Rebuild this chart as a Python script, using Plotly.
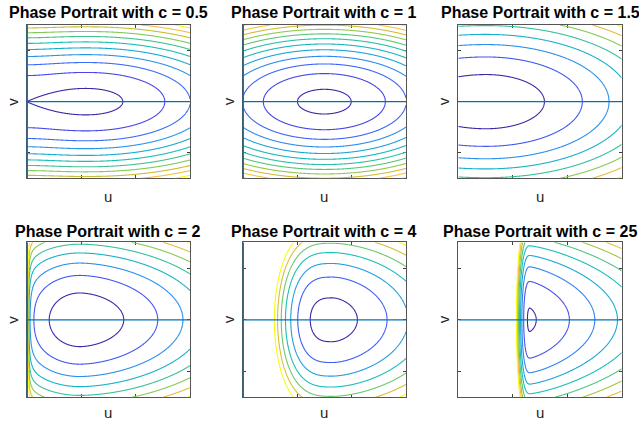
import numpy as np
import plotly.graph_objects as go

# ---------------- data ----------------
C_VALUES = [0.5, 1, 1.5, 2, 4, 25]
# potential parameters (normalised u in [0,1])
S_MIN = [0.361, 0.50, 0.17, 0.326, 0.55, 0.438]
K_RIGHT = [0.665, 0.96, 0.98, 1.20, 1.96, 1.55]
P_RIGHT = [2.1, 2.0, 2.0, 1.75, 1.7, 1.3]
K_LEFT = [0.457, 0.96, 0.70, 3.17, 31.5, 1124.0]
P_LEFT = [2.0, 2.0, 2.0, 2.0, 3.0, 2.6]
K_QUAD = [0.0, 0.0, 0.0, 0.0, 0.0, 12.0]
K_CAP = [1.754, 0.0, 0.0, 0.0, 0.0, 0.0]
P_CAP = [4.0, 4.0, 4.0, 4.0, 4.0, 4.0]
WALL_A = [0.0, 0.0, 0.0, 8.5e-4, 0.0, 0.0]
WALL_D = [1.0, 1.0, 1.0, 0.328, 1.0, 1.0]
WALL_Q = [1.5, 1.5, 1.5, 1.5, 1.5, 1.5]
LEVEL_0 = [0.0298, 0.026, 0.125, 0.12, 0.08, 0.023]
LEVEL_STEP = [0.1155, 0.108, 0.215, 0.208, 0.224, 0.222]
N_LEVELS = [11, 12, 8, 8, 7, 9]
U_AXIS_LINE = [True, True, False, True, True, False]
U_RANGE = [0, 3]
V_RANGE = [-1.5, 1.5]
U_TICKS = [1, 2]
V_TICKS = [-1, 0, 1]

PARULA = [[0.0, '#3E26A8'], [0.1, '#4747EB'], [0.2, '#3A6DFC'], [0.3, '#2796EB'],
          [0.4, '#17ACD1'], [0.5, '#1ABFB6'], [0.6, '#43C192'], [0.7, '#80CB58'],
          [0.8, '#C9BD33'], [0.9, '#FBBC40'], [0.95, '#F5DE28'], [1.0, '#F9FB14']]


def potential(s, i):
    dr = np.clip(s - S_MIN[i], 0, None)
    dl = np.clip(S_MIN[i] - s, 0, None)
    V = (K_RIGHT[i] * dr ** P_RIGHT[i] + K_LEFT[i] * dl ** P_LEFT[i]
         + K_QUAD[i] * dl ** 2 - K_CAP[i] * dl ** P_CAP[i])
    if WALL_A[i] > 0:
        dw, q = WALL_D[i], WALL_Q[i]
        gap = dw - dl
        pole = np.where(gap > 1e-4, np.clip(gap, 1e-4, None) ** -q, 1e6)
        V = V + WALL_A[i] * (pole - dw ** -q - q * dw ** -(q + 1) * dl)
    return V


fig = go.Figure()

W, H = 639, 421
XDOM_PX = [(26.7, 190.0), (242.7, 406.0), (458.3, 621.7)]
YDOM_PX = [(25.0, 178.3), (242.3, 397.3)]
TITLE_Y = [13.0, 231.0]
ULAB_Y = [196.0, 412.0]
VLAB_X = [13.0, 228.5, 443.5]
FONT = 'Arial, Liberation Sans, sans-serif'

annotations = []
for i, c in enumerate(C_VALUES):
    r, col = divmod(i, 3)
    ax = '' if i == 0 else str(i + 1)
    s = np.unique(np.concatenate([np.linspace(0, 1, 501),
                                  np.linspace(0, 0.06, 121),
                                  np.linspace(0.33, 0.46, 261)]))
    w = np.linspace(-1, 1, 241)
    V = potential(s, i)
    top = LEVEL_0[i] + (N_LEVELS[i] - 1) * LEVEL_STEP[i]
    Z = w[:, None] ** 2 + V[None, :]
    Z = np.minimum(Z, top + 3 * LEVEL_STEP[i]).astype(np.float32)
    u = (U_RANGE[0] + s * (U_RANGE[1] - U_RANGE[0])).astype(np.float32)
    v = (w * V_RANGE[1]).astype(np.float32)
    fig.add_trace(go.Contour(
        x=u, y=v, z=Z, xaxis='x' + ax, yaxis='y' + ax,
        autocontour=False,
        contours=dict(coloring='lines', start=LEVEL_0[i],
                      end=top + 0.01 * LEVEL_STEP[i], size=LEVEL_STEP[i]),
        line=dict(width=1.1, smoothing=1),
        colorscale=PARULA, zmin=0, zmax=top, showscale=False, hoverinfo='skip'))
    fig.add_trace(go.Scatter(x=U_RANGE, y=[0, 0], mode='lines', xaxis='x' + ax, yaxis='y' + ax,
                             line=dict(color='#0072BD', width=1.3), hoverinfo='skip', showlegend=False))
    if U_AXIS_LINE[i]:
        fig.add_trace(go.Scatter(x=[0, 0], y=V_RANGE, mode='lines', xaxis='x' + ax, yaxis='y' + ax,
                                 line=dict(color='#0072BD', width=2.5), hoverinfo='skip', showlegend=False))

    x0, x1 = XDOM_PX[col]
    y0, y1 = YDOM_PX[r]
    axstyle = dict(showgrid=False, zeroline=False, showticklabels=False, ticks='inside',
                   ticklen=3, tickwidth=1, tickcolor='#404040', showline=True, linecolor='#555555',
                   linewidth=1, mirror='ticks', layer='below traces', fixedrange=True)
    fig.layout['xaxis' + ax] = dict(domain=[x0 / W, x1 / W], range=U_RANGE, tickvals=U_TICKS,
                                    anchor='y' + ax, **axstyle)
    fig.layout['yaxis' + ax] = dict(domain=[1 - y1 / H, 1 - y0 / H], range=V_RANGE, tickvals=V_TICKS,
                                    anchor='x' + ax, **axstyle)
    cx = (x0 + x1) / 2 / W
    annotations.append(dict(text=f'<b>Phase Portrait with c = {c:g}</b>', x=cx, y=1 - TITLE_Y[r] / H,
                            xref='paper', yref='paper', showarrow=False, xanchor='center', yanchor='middle',
                            font=dict(family=FONT, size=16, color='#000000')))
    annotations.append(dict(text='u', x=cx, y=1 - ULAB_Y[r] / H, xref='paper', yref='paper',
                            showarrow=False, xanchor='center', yanchor='middle',
                            font=dict(family=FONT, size=15, color='#262626')))
    annotations.append(dict(text='v', x=VLAB_X[col] / W, y=1 - (y0 + y1) / 2 / H,
                            xref='paper', yref='paper', showarrow=False, xanchor='center',
                            yanchor='middle', textangle=-90,
                            font=dict(family=FONT, size=15, color='#262626')))

fig.update_layout(width=W, height=H, margin=dict(l=0, r=0, t=0, b=0), paper_bgcolor='white',
                  plot_bgcolor='white', showlegend=False, annotations=annotations)
fig.write_html('out.html', config={'displayModeBar': False, 'staticPlot': True},
               post_script="document.body.style.margin='0';")
